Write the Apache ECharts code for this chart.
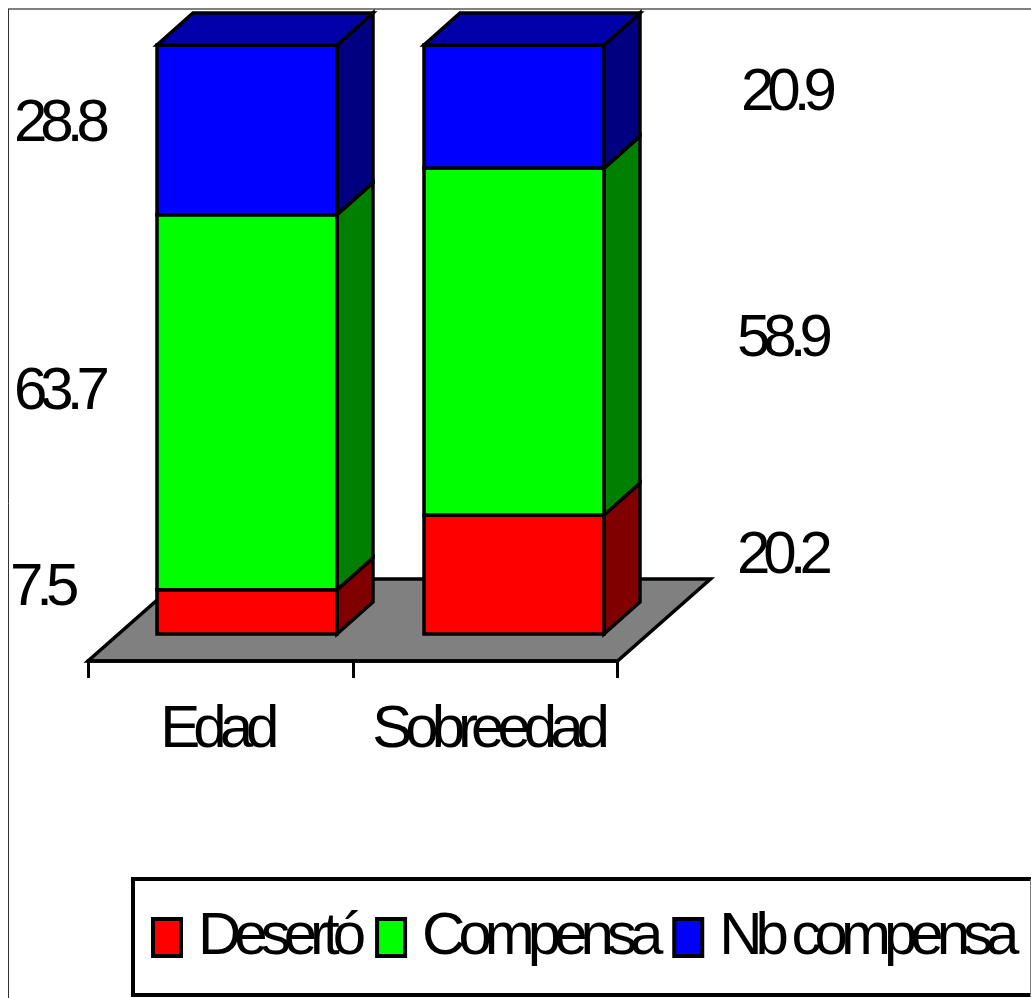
<!DOCTYPE html>
<html lang="es">
<head>
<meta charset="utf-8">
<title>Edad y sobreedad</title>
<script src="https://cdn.jsdelivr.net/npm/echarts@6/dist/echarts.min.js"></script>
<style>
  html, body { margin: 0; padding: 0; background: #fff; }
  #chart { width: 1031px; height: 998px; }
</style>
</head>
<body>
<div id="chart"></div>
<script>
// Percentages per group, bottom segment first
const categories = ['Edad', 'Sobreedad'];
const deserto = [7.5, 20.2];
const compensa = [63.7, 58.9];
const noCompensa = [28.8, 20.9];

// Pseudo-3D box geometry and lettering
const FONT = '"Liberation Sans", Arial, sans-serif';
const FONT_SIZE = 60;
const TRACKING = '-7px';
const BAR_WIDTH = 180;
const DEPTH_X = 36;
const DEPTH_Y = 32;
const FLOOR_SHIFT = 93;
const EDGE = 3.5;

// Where each value label sits: [left, vertical centre]
const labelSpots = {
  deserto: [[10, 592], [737, 560]],
  compensa: [[14, 396], [737, 343]],
  noCompensa: [[14, 128], [741, 97]]
};

// Tight tracking for every string, applied to both measuring and drawing
// so that the library lays text out at its condensed width.
['fillText', 'measureText'].forEach(function (method) {
  const original = CanvasRenderingContext2D.prototype[method];
  CanvasRenderingContext2D.prototype[method] = function () {
    this.letterSpacing = TRACKING;
    return original.apply(this, arguments);
  };
});

function shape(points, fill) {
  return {
    type: 'polygon',
    shape: { points },
    style: { fill, stroke: '#000', lineWidth: EDGE, lineJoin: 'miter' }
  };
}

// One stacked segment: front face, right side and, for the top one, a lid
function boxRenderer(front, side, lid) {
  return function (params, api) {
    const low = api.coord([api.value(0), api.value(1)]);
    const high = api.coord([api.value(0), api.value(2)]);
    const x0 = low[0] - BAR_WIDTH / 2;
    const x1 = low[0] + BAR_WIDTH / 2;
    const children = [
      shape([[x1, low[1]], [x1 + DEPTH_X, low[1] - DEPTH_Y], [x1 + DEPTH_X, high[1] - DEPTH_Y], [x1, high[1]]], side),
      shape([[x0, low[1]], [x1, low[1]], [x1, high[1]], [x0, high[1]]], front)
    ];
    if (lid) {
      children.push(shape([[x0, high[1]], [x1, high[1]], [x1 + DEPTH_X, high[1] - DEPTH_Y], [x0 + DEPTH_X, high[1] - DEPTH_Y]], lid));
    }
    return { type: 'group', children };
  };
}

function segments(values, below) {
  return values.map((v, i) => [i, below[i], +(below[i] + v).toFixed(1)]);
}

function boxSeries(name, values, below, front, side, lid) {
  return {
    name,
    type: 'custom',
    xAxisIndex: 1,
    yAxisIndex: 1,
    z: 3,
    clip: false,
    silent: true,
    itemStyle: { color: front },
    encode: { x: 0, y: [1, 2] },
    data: segments(values, below),
    renderItem: boxRenderer(front, side, lid)
  };
}

const zeros = categories.map(() => 0);
const belowCompensa = deserto;
const belowNoCompensa = deserto.map((v, i) => v + compensa[i]);

function valueLabels(values, spots) {
  return values.map((v, i) => ({
    type: 'text',
    left: spots[i][0],
    top: spots[i][1] - FONT_SIZE / 2,
    silent: true,
    style: { text: v.toFixed(1), font: FONT_SIZE + 'px ' + FONT, fill: '#000' }
  }));
}

const chart = echarts.init(document.getElementById('chart'), null, { renderer: 'canvas' });
chart.setOption({
  animation: false,
  backgroundColor: '#fff',
  grid: [
    { left: 88, top: 579, width: 529.5, height: 82 },
    { left: 113.5, top: 45, width: 534, height: 589 }
  ],
  xAxis: [
    {
      type: 'category',
      gridIndex: 0,
      data: [
        { value: categories[0], textStyle: { padding: [0, 8, 0, 0] } },
        { value: categories[1], textStyle: { padding: [0, 0, 0, 5] } }
      ],
      z: 2,
      axisLine: { lineStyle: { color: '#000', width: 3.5 } },
      axisTick: { show: true, interval: 0, length: 17, lineStyle: { color: '#000', width: 3 } },
      axisLabel: { interval: 0, hideOverlap: false, margin: 43, color: '#000', fontFamily: FONT, fontSize: FONT_SIZE }
    },
    { type: 'category', gridIndex: 1, data: categories, show: false }
  ],
  yAxis: [
    { type: 'value', gridIndex: 0, min: 0, max: 1, show: false },
    { type: 'value', gridIndex: 1, min: 0, max: 100, show: false }
  ],
  legend: {
    left: 133,
    top: 879,
    width: 2000,
    padding: [32, 40, 31, 18],
    backgroundColor: '#fff',
    borderColor: '#000',
    borderWidth: 4,
    borderRadius: 0,
    itemWidth: 28,
    itemHeight: 37,
    itemGap: 16,
    selectedMode: false,
    icon: 'rect',
    itemStyle: { borderColor: '#000', borderWidth: 4 },
    textStyle: { color: '#000', fontFamily: FONT, fontSize: FONT_SIZE, padding: [0, 0, 0, 12] },
    data: ['Desertó', 'Compensa', 'Nb compensa']
  },
  graphic: [
    { type: 'line', shape: { x1: 8, y1: 9, x2: 1031, y2: 9 }, style: { stroke: '#808080', lineWidth: 2 }, silent: true },
    { type: 'line', shape: { x1: 8.5, y1: 9, x2: 8.5, y2: 998 }, style: { stroke: '#303030', lineWidth: 1 }, silent: true },
    { type: 'line', z: 100, shape: { x1: 1030.5, y1: 879, x2: 1030.5, y2: 997 }, style: { stroke: '#808080', lineWidth: 1 }, silent: true },
    ...valueLabels(deserto, labelSpots.deserto),
    ...valueLabels(compensa, labelSpots.compensa),
    ...valueLabels(noCompensa, labelSpots.noCompensa)
  ],
  series: [
    {
      name: 'Piso',
      type: 'custom',
      xAxisIndex: 0,
      yAxisIndex: 0,
      z: 1,
      clip: false,
      silent: true,
      data: [[0, 0]],
      renderItem: function (params) {
        const r = params.coordSys;
        return shape([
          [r.x, r.y + r.height],
          [r.x + r.width, r.y + r.height],
          [r.x + r.width + FLOOR_SHIFT, r.y],
          [r.x + FLOOR_SHIFT, r.y]
        ], '#808080');
      }
    },
    boxSeries('Desertó', deserto, zeros, '#ff0000', '#800000'),
    boxSeries('Compensa', compensa, belowCompensa, '#00ff00', '#008000'),
    boxSeries('Nb compensa', noCompensa, belowNoCompensa, '#0000ff', '#000080', '#0000aa')
  ]
});
</script>
</body>
</html>
